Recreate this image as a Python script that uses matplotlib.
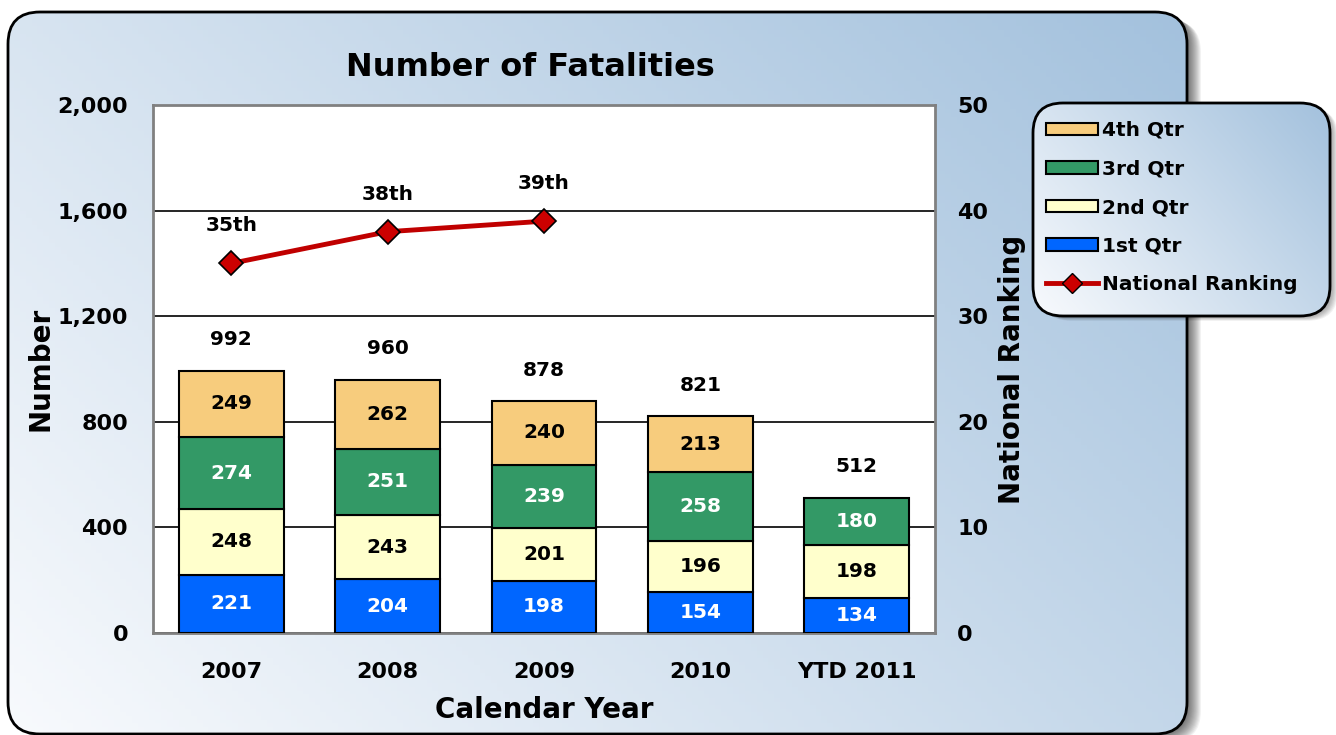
import numpy as np
import matplotlib
matplotlib.use('Agg')
from matplotlib import pyplot as plt
from matplotlib.patches import FancyBboxPatch, Patch
from matplotlib.lines import Line2D
import matplotlib.colors as mcolors

plt.rcParams['font.family'] = ['DejaVu Sans']
plt.rcParams['font.weight'] = 'bold'

years = ['2007', '2008', '2009', '2010', 'YTD 2011']
q1 = [221, 204, 198, 154, 134]
q2 = [248, 243, 201, 196, 198]
q3 = [274, 251, 239, 258, 180]
q4 = [249, 262, 240, 213, 0]
totals = [992, 960, 878, 821, 512]
rank = [35, 38, 39]
rank_labels = ['35th', '38th', '39th']

c1, c2, c3, c4 = '#0066FF', '#FFFFCC', '#339966', '#F7CC7D'
line_c = '#C00000'

W, H = 1336, 735
fig = plt.figure(figsize=(W / 100, H / 100), dpi=100)
fig.patch.set_facecolor('white')

# background panel with diagonal gradient
bg = fig.add_axes([0, 0, 1, 1], zorder=0)
bg.set_xlim(0, W)
bg.set_ylim(H, 0)
bg.axis('off')

light = np.array(mcolors.to_rgb('#f8fafd'))
dark = np.array(mcolors.to_rgb('#a3c1dd'))
gx, gy = np.meshgrid(np.linspace(0, 1, 200), np.linspace(0, 1, 200))
t = np.clip((gx * 0.62 + (1 - gy) * 0.38), 0, 1)
grad = light + (dark - light) * t[..., None]


def panel(x0, y0, w, h, r, shadow=10, z=0):
    for i in range(shadow, 0, -1):
        sh = FancyBboxPatch((x0 + i, y0 + i * 0.6), w, h,
                            boxstyle='round,pad=0,rounding_size=%d' % r,
                            fc='black', ec='none', alpha=0.05, zorder=z)
        bg.add_patch(sh)
    box = FancyBboxPatch((x0, y0), w, h, boxstyle='round,pad=0,rounding_size=%d' % r,
                         fc='none', ec='black', lw=2)
    bg.add_patch(box)
    im = bg.imshow(grad, extent=(x0, x0 + w, y0 + h, y0), aspect='auto', zorder=z + 1)
    im.set_clip_path(box)
    box.set_zorder(z + 2)


panel(8, 12, 1179, 722, 32, shadow=14, z=0)
panel(1033, 103, 297, 213, 30, shadow=8, z=5)

# main axes
ax = fig.add_axes([153 / W, 1 - 633 / H, (935 - 153) / W, (633 - 105) / H], zorder=2)
ax.set_facecolor('white')
x = np.arange(len(years))
bw = 0.67
kw = dict(width=bw, edgecolor='black', linewidth=1.5, zorder=3)
ax.bar(x, q1, color=c1, **kw)
ax.bar(x, q2, bottom=q1, color=c2, **kw)
b12 = np.array(q1) + np.array(q2)
ax.bar(x, q3, bottom=b12, color=c3, **kw)
b123 = b12 + np.array(q3)
ax.bar(x[:4], q4[:4], bottom=b123[:4], color=c4, **kw)

segs = [(q1, np.zeros(5), 'white'), (q2, np.array(q1), 'black'),
        (q3, b12, 'white'), (q4, b123, 'black')]
for vals, bot, col in segs:
    for i, v in enumerate(vals):
        if v > 0:
            ax.text(x[i], bot[i] + v / 2, str(v), ha='center', va='center',
                    color=col, fontsize=14.5, fontweight='bold', zorder=4)
for i, v in enumerate(totals):
    ax.text(x[i], v + 118, str(v), ha='center', va='center',
            fontsize=14.5, fontweight='bold', zorder=4)

ax.set_xlim(-0.5, 4.5)
ax.set_ylim(0, 2000)
ax.set_yticks([0, 400, 800, 1200, 1600, 2000])
ax.set_yticklabels(['0', '400', '800', '1,200', '1,600', '2,000'])
ax.set_xticks(x)
ax.set_xticklabels(years)
ax.tick_params(length=0, labelsize=16, pad=21)
ax.tick_params(axis='y', pad=18)
ax.grid(axis='y', color='black', lw=1.2, zorder=1)
ax.set_axisbelow(True)
for s in ax.spines.values():
    s.set_color('#808080')
    s.set_linewidth(2)
ax.set_ylabel('Number', fontsize=20, fontweight='bold', labelpad=2)
ax.set_xlabel('Calendar Year', fontsize=20, fontweight='bold', labelpad=10)
fig.text(530 / W, 1 - 68 / H, 'Number of Fatalities', ha='center', va='center',
         fontsize=23, fontweight='bold')

ax2 = ax.twinx()
ax2.set_ylim(0, 50)
ax2.set_yticks([0, 10, 20, 30, 40, 50])
ax2.tick_params(length=0, labelsize=16, pad=16)
for s in ax2.spines.values():
    s.set_visible(False)
ax2.plot(x[:3], rank, color=line_c, lw=3.5, marker='D', markersize=12,
         markerfacecolor='#CC0000', markeredgecolor='black', markeredgewidth=1.2, zorder=5)
for i, r in enumerate(rank):
    ax2.annotate(rank_labels[i], (x[i], r), xytext=(0, 27), textcoords='offset points',
                 ha='center', va='center', fontsize=14.5, fontweight='bold')
ax2.set_ylabel('National Ranking', fontsize=20, fontweight='bold', labelpad=7)

handles = [Patch(fc=c4, ec='black', lw=1.5), Patch(fc=c3, ec='black', lw=1.5),
           Patch(fc=c2, ec='black', lw=1.5), Patch(fc=c1, ec='black', lw=1.5),
           Line2D([], [], color=line_c, lw=3.5, marker='D', markersize=10,
                  markerfacecolor='#CC0000', markeredgecolor='black')]
labels = ['4th Qtr', '3rd Qtr', '2nd Qtr', '1st Qtr', 'National Ranking']
leg = fig.legend(handles, labels, loc='upper left', bbox_to_anchor=(1046 / W, 1 - 121 / H),
                 frameon=False, fontsize=14.5, handlelength=2.6, handleheight=0.6,
                 handletextpad=0.2, labelspacing=0.97, borderaxespad=0, borderpad=0)
leg.set_zorder(10)

fig.savefig('out.png', dpi=100)
